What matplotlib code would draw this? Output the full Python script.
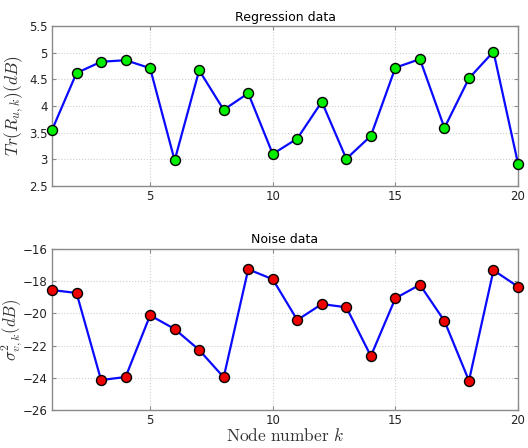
import matplotlib
matplotlib.use("Agg")
import matplotlib.pyplot as plt
import numpy as np

plt.rcParams['mathtext.fontset'] = 'cm'

nodes = list(range(1, 21))
regression = [3.55, 4.62, 4.83, 4.86, 4.71, 2.98, 4.67, 3.93, 4.24, 3.10,
              3.39, 4.08, 3.01, 3.44, 4.72, 4.88, 3.59, 4.52, 5.02, 2.92]
noise = [-18.55, -18.73, -24.14, -23.95, -20.12, -20.97, -22.27, -23.97, -17.26, -17.88,
         -20.41, -19.42, -19.62, -22.65, -19.06, -18.22, -20.47, -24.18, -17.32, -18.34]

xticks = [5, 10, 15, 20]
top_yticks = [2.5, 3, 3.5, 4, 4.5, 5, 5.5]
top_ylabels = ['2.5', '3', '3.5', '4', '4.5', '5', '5.5']
bot_yticks = [-26, -24, -22, -20, -18, -16]

fig = plt.figure(figsize=(5.28, 4.48), dpi=100)
ax1 = fig.add_axes([0.0985, 0.5848, 0.8826, 0.357])
ax2 = fig.add_axes([0.0985, 0.0848, 0.8826, 0.3594])

spine_col = '#8a8a8a'

def style(ax):
    for s in ax.spines.values():
        s.set_color(spine_col)
        s.set_linewidth(1.0)
    ax.tick_params(direction='in', length=3, width=0.8, color=spine_col,
                   labelsize=8.5, labelcolor='#222222', top=True, right=True, pad=3)
    ax.grid(True, linestyle=':', color='#cfcfcf', linewidth=0.8)
    ax.set_axisbelow(True)
    ax.set_xlim(1, 20)
    ax.set_xticks(xticks)

ax1.plot(nodes, regression, '-o', color='#0a0aff', linewidth=1.6,
         markersize=7.2, markerfacecolor='#00ee00', markeredgecolor='black',
         markeredgewidth=1.0, clip_on=False, zorder=3)
style(ax1)
ax1.set_ylim(2.5, 5.5)
ax1.set_yticks(top_yticks)
ax1.set_yticklabels(top_ylabels)
ax1.set_title('Regression data', fontsize=9, pad=4)
ax1.set_ylabel(r'$Tr(R_{u,k})(dB)$', fontsize=12.5, color='#333333')
ax1.yaxis.set_label_coords(-0.056, 0.5)

ax2.plot(nodes, noise, '-o', color='#0a0aff', linewidth=1.6,
         markersize=7.2, markerfacecolor='#ee0000', markeredgecolor='black',
         markeredgewidth=1.0, clip_on=False, zorder=3)
style(ax2)
ax2.set_ylim(-26, -16)
ax2.set_yticks(bot_yticks)
ax2.set_title('Noise data', fontsize=9, pad=4)
ax2.set_ylabel(r'$\sigma^2_{v,k}(dB)$', fontsize=12, color='#333333')
ax2.yaxis.set_label_coords(-0.058, 0.5)
ax2.set_xlabel(r'$\mathrm{Node\ number}\ k$', fontsize=12.5, color='#333333', labelpad=0)

fig.savefig('out.png', dpi=100)
